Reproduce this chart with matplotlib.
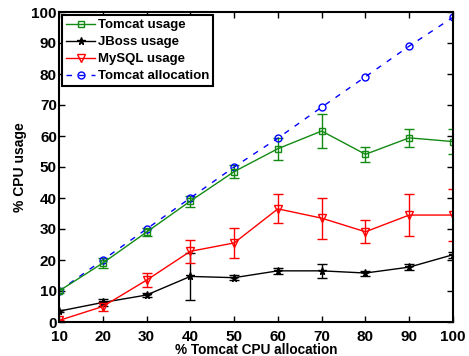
import matplotlib
matplotlib.use("Agg")
import matplotlib.pyplot as plt
from matplotlib.lines import Line2D

plt.rcParams['font.family'] = ['Liberation Sans', 'DejaVu Sans']
plt.rcParams['font.weight'] = 'bold'

x = [10, 20, 30, 40, 50, 60, 70, 80, 90, 100]
tomcat_usage = [10, 19, 29, 39, 48.5, 55.9, 61.6, 54.1, 59.4, 58.2]
tomcat_err = [0.8, 1.5, 1.3, 1.8, 2.0, 3.6, 5.5, 2.5, 2.9, 4.0]
jboss_usage = [3.5, 6.3, 8.7, 14.7, 14.3, 16.5, 16.5, 15.8, 17.7, 21.7]
jboss_err = [0.3, 1.0, 0.5, 7.5, 0.8, 1.0, 2.3, 0.8, 1.0, 1.0]
mysql_usage = [0.5, 5.0, 13.5, 22.8, 25.5, 36.5, 33.5, 29.1, 34.5, 34.5]
mysql_err = [0.3, 1.5, 2.3, 3.8, 4.8, 4.7, 6.6, 3.7, 6.7, 8.3]
tomcat_alloc = [10, 20, 30, 40, 50, 59.3, 69.3, 79.1, 89, 98.3]

green = '#138a13'

fig = plt.figure(figsize=(4.69, 3.56), dpi=100)
ax = fig.add_axes([59/469, 1 - 322/356, (453-59)/469, (322-12)/356])

ax.errorbar(x, tomcat_usage, yerr=tomcat_err, color=green, marker='s', mfc='none',
            ms=4.5, lw=1, capsize=3.3, elinewidth=1)
ax.errorbar(x, jboss_usage, yerr=jboss_err, color='black', marker='*',
            ms=5.5, lw=1, capsize=3.3, elinewidth=1)
ax.errorbar(x, mysql_usage, yerr=mysql_err, color='red', marker='v', mfc='none',
            ms=5.5, lw=1, capsize=3.3, elinewidth=1)
ax.plot(x, tomcat_alloc, color='blue', marker='o', mfc='none', ms=5, lw=1,
        dashes=(4, 5))

handles = [
    Line2D([], [], color=green, marker='s', mfc='none', ms=4.5, lw=1),
    Line2D([], [], color='black', marker='*', ms=5.5, lw=1),
    Line2D([], [], color='red', marker='v', mfc='none', ms=5.5, lw=1),
    Line2D([], [], color='blue', marker='o', mfc='none', ms=5, lw=1, dashes=(4, 5)),
]
labels = ['Tomcat usage', 'JBoss usage', 'MySQL usage', 'Tomcat allocation']

ax.set_xlim(10, 100)
ax.set_ylim(0, 100)
ax.set_xticks(x)
ax.set_yticks(range(0, 101, 10))
ax.tick_params(direction='in', top=True, right=True, labelsize=11, length=4, width=1)
ax.tick_params(axis='y', pad=1.5)
ax.tick_params(axis='x', pad=6)
for lab in ax.get_xticklabels() + ax.get_yticklabels():
    lab.set_fontweight('bold')
for s in ax.spines.values():
    s.set_linewidth(1.5)

ax.set_xlabel('% Tomcat CPU allocation', fontsize=9.8, fontweight='bold', labelpad=-1.0)
ax.set_ylabel('% CPU usage', fontsize=10, fontweight='bold', labelpad=3)

leg = ax.legend(handles, labels, loc='upper left', frameon=True, fancybox=False,
                edgecolor='black', borderpad=0.3, labelspacing=0.36, handlelength=2.2,
                handletextpad=0.2, borderaxespad=0.25, framealpha=1,
                prop={'weight': 'bold', 'size': 9.5})
leg.get_frame().set_linewidth(1.5)

fig.savefig('out.png', dpi=100)
